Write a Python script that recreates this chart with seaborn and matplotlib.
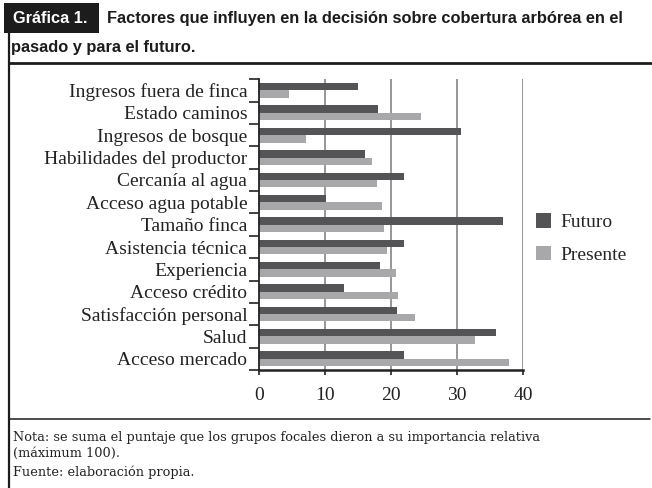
import pandas as pd
import numpy as np
import matplotlib
matplotlib.use('Agg')
import matplotlib.pyplot as plt
from matplotlib.lines import Line2D
from matplotlib.patches import Rectangle
from matplotlib.ticker import FixedLocator
import seaborn as sns

# datos
factores = ['Ingresos fuera de finca', 'Estado caminos', 'Ingresos de bosque',
            'Habilidades del productor', 'Cercanía al agua', 'Acceso agua potable',
            'Tamaño finca', 'Asistencia técnica', 'Experiencia', 'Acceso crédito',
            'Satisfacción personal', 'Salud', 'Acceso mercado']
futuro = [15, 18, 30.6, 16, 22, 10.1, 37, 22, 18.4, 12.9, 20.9, 35.9, 21.9]
presente = [4.6, 24.6, 7.1, 17.1, 17.9, 18.6, 18.9, 19.4, 20.7, 21, 23.6, 32.8, 37.9]
series = ['Futuro', 'Presente']
colores = ['#545457', '#a8a8ab']
xticks = [0, 10, 20, 30, 40]

df = pd.DataFrame({
    'factor': factores * 2,
    'valor': futuro + presente,
    'serie': ['Futuro'] * len(factores) + ['Presente'] * len(factores),
})

sns.set_theme(style='white')
plt.rcParams['font.family'] = ['Liberation Serif', 'DejaVu Serif']

fig = plt.figure(figsize=(6.52, 4.88), dpi=100)
ax = fig.add_axes([259 / 652, 1 - 370 / 488, (523 - 259) / 652, (370 - 79.3) / 488])

sns.barplot(data=df, y='factor', x='valor', hue='serie', hue_order=series,
            order=factores, palette=colores, orient='h', width=0.66,
            saturation=1, linewidth=0, ax=ax)

ax.set_xlim(0, 40)
ax.set_ylim(len(factores) - 0.5, -0.5)
ax.set_xticks(xticks)
ax.set_xticklabels([str(t) for t in xticks])
ax.set_xlabel('')
ax.set_ylabel('')

# rejilla vertical
for t in xticks[1:]:
    ax.axvline(t, color='#8e8e8e', linewidth=1.3, zorder=0)

# marcas entre categorías
ax.yaxis.set_minor_locator(FixedLocator(np.arange(-0.5, len(factores), 1)))
ax.tick_params(axis='y', which='major', length=0, pad=8.5, labelsize=14, colors='#222222')
ax.tick_params(axis='y', which='minor', left=True, length=7, width=1.2, color='#222222', direction='out')
ax.tick_params(axis='x', which='major', bottom=True, length=3.5, width=1.2, pad=8.5,
               labelsize=14, colors='#222222')

sns.despine(ax=ax, top=True, right=True)
ax.spines['left'].set_color('#222222')
ax.spines['left'].set_linewidth(1.3)
ax.spines['bottom'].set_color('#222222')
ax.spines['bottom'].set_linewidth(1.8)

handles, labels = ax.get_legend_handles_labels()
ax.legend(handles, labels, loc='center left', bbox_to_anchor=(536 / 652, 1 - 238.5 / 488),
          bbox_transform=fig.transFigure, frameon=False, fontsize=14,
          handlelength=0.78, handleheight=0.78, labelspacing=0.75,
          handletextpad=0.5, borderpad=0, borderaxespad=0)

# marco y encabezado
W, H = 652, 488
fig.add_artist(Rectangle((4 / W, 1 - 33 / H), 95 / W, 30 / H, transform=fig.transFigure,
                         facecolor='#1c1c1c', edgecolor='none'))
fig.text(13 / W, 1 - 18.5 / H, 'Gráfica 1.', family='Liberation Sans', weight='bold',
         fontsize=11.8, color='white', va='center', ha='left')
fig.text(107 / W, 1 - 18.5 / H,
         'Factores que influyen en la decisión sobre cobertura arbórea en el',
         family='Liberation Sans', weight='bold', fontsize=11.8, color='#1c1c1c',
         va='center', ha='left')
fig.text(11 / W, 1 - 47.5 / H, 'pasado y para el futuro.', family='Liberation Sans',
         weight='bold', fontsize=11.8, color='#1c1c1c', va='center', ha='left')

fig.add_artist(Line2D([9 / W, 9 / W], [1 - 33 / H, 0], transform=fig.transFigure,
                      color='#1c1c1c', linewidth=1.6))
fig.add_artist(Line2D([9 / W, 651 / W], [1 - 62.5 / H, 1 - 62.5 / H],
                      transform=fig.transFigure, color='#1c1c1c', linewidth=2.0))
fig.add_artist(Line2D([9 / W, 650 / W], [1 - 419 / H, 1 - 419 / H],
                      transform=fig.transFigure, color='#1c1c1c', linewidth=1.1))

# notas
nota_kw = dict(family='DejaVu Serif', fontsize=9.3, color='#222222', va='center', ha='left')
fig.text(13 / W, 1 - 437 / H,
         'Nota: se suma el puntaje que los grupos focales dieron a su importancia relativa',
         **nota_kw)
fig.text(13 / W, 1 - 453 / H, '(máximum 100).', **nota_kw)
fig.text(13 / W, 1 - 472 / H, 'Fuente: elaboración propia.', **nota_kw)

fig.savefig('out.png', dpi=100)
